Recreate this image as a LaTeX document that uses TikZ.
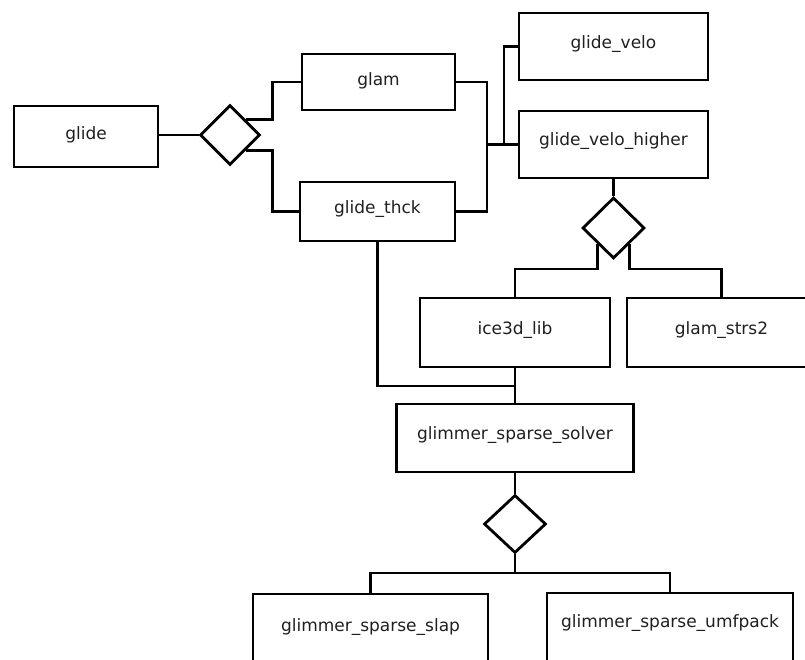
\documentclass[tikz,border=0pt]{standalone}
\usepackage{fontspec}
\setmainfont{DejaVu Sans}
\usetikzlibrary{shapes.geometric}
\begin{document}
\begin{tikzpicture}[x=1pt,y=-1pt,
  box/.style={draw=black, line width=2.8pt, rectangle, inner sep=0pt},
  choice/.style={draw=black, line width=2.8pt, diamond, inner sep=0pt, minimum width=60pt, minimum height=60pt},
  lbl/.style={anchor=base, inner sep=0pt, text=black!88, font=\fontsize{17}{20}\selectfont},
  conn/.style={draw=black, line width=2.8pt}]
\useasboundingbox (0,0) rectangle (805,660);
\clip (0,0) rectangle (805,660);
% boxes
\node[box, minimum width=144pt, minimum height=61pt] (glide) at (86,136.5) {};
\node[box, minimum width=153pt, minimum height=56pt] (glam) at (378.5,82) {};
\node[box, minimum width=155pt, minimum height=59pt] (thck) at (377.5,211.5) {};
\node[box, minimum width=189pt, minimum height=67pt] (velo) at (613.5,46.5) {};
\node[box, minimum width=189pt, minimum height=67pt] (velohi) at (613.5,144.5) {};
\node[box, minimum width=190pt, minimum height=69pt] (ice) at (515,332.5) {};
\node[box, minimum width=189pt, minimum height=69pt] (strs) at (721.5,332.5) {};
\node[box, minimum width=237pt, minimum height=68pt] (solver) at (515,438) {};
\node[box, minimum width=235pt, minimum height=68pt] (slap) at (370.5,628) {};
\node[box, minimum width=246pt, minimum height=68pt] (umf) at (670,627) {};
% labels
\node[lbl] (glide-t) at (86,140) {glide};
\node[lbl] (glam-t) at (378.5,86) {glam};
\node[lbl] (thck-t) at (377.5,214) {glide\_thck};
\node[lbl] (velo-t) at (613.5,49) {glide\_velo};
\node[lbl] (velohi-t) at (613.5,146) {glide\_velo\_higher};
\node[lbl] (ice-t) at (515,334) {ice3d\_lib};
\node[lbl] (strs-t) at (721.5,334) {glam\_strs2};
\node[lbl] (solver-t) at (515,439) {glimmer\_sparse\_solver};
\node[lbl] (slap-t) at (370.5,631) {glimmer\_sparse\_slap};
\node[lbl] (umf-t) at (670,627.5) {glimmer\_sparse\_umfpack};
% diamonds
\node[choice] (d1) at (230,135) {};
\node[choice, minimum width=62pt, minimum height=61pt] (d2) at (613.5,228) {};
\node[choice, minimum width=62pt, minimum height=58pt] (d3) at (515,524) {};
% junctions
\coordinate (j1) at (487,144.5);
\coordinate (j2) at (504,144.5);
\coordinate (j3) at (515,386);
\coordinate (j4) at (515,573);
% connectors
\draw[conn] (d1.west -| glide.east) -- (d1.west);
\draw[conn] (d1.north east) -- ++(27,0) |- (glam.west);
\draw[conn] (d1.south east) -- ++(27,0) |- (thck.west);
\draw[conn] (glam.east) -| (j1);
\draw[conn] (thck.east) -| (j1) -- (velohi.west);
\draw[conn] (j2) |- (velo.west);
\draw[conn] (velohi.south) -- (d2.north);
\draw[conn] (d2.south west) -- ++(0,25) -| (ice.north);
\draw[conn] (d2.south east) -- ++(0,25) -| (strs.north);
\draw[conn] (thck.south) |- (j3);
\draw[conn] (ice.south) -- (j3) -- (solver.north);
\draw[conn] (solver.south) -- (d3.north);
\draw[conn] (d3.south) -- (j4);
\draw[conn] (j4) -| (slap.north);
\draw[conn] (j4) -| (umf.north);
\end{tikzpicture}
\end{document}
